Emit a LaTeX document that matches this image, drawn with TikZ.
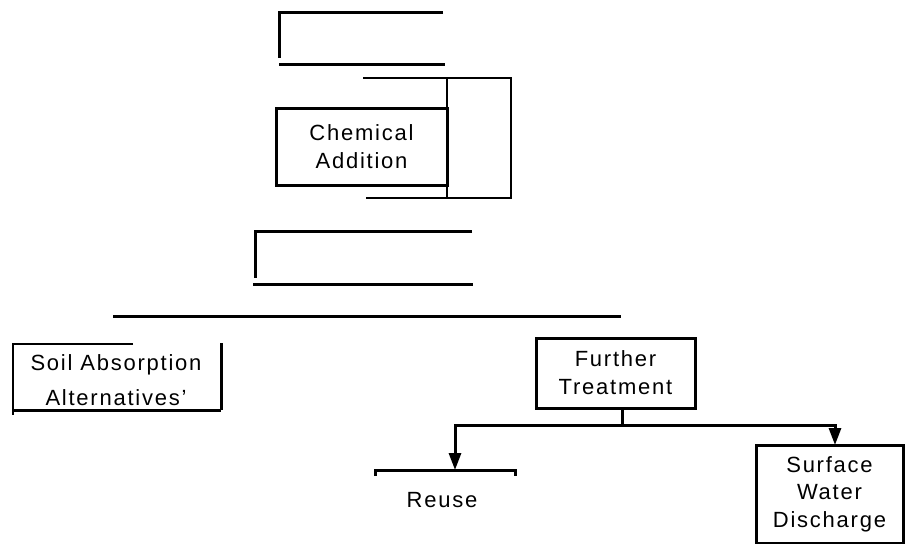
\documentclass[tikz,border=0pt]{standalone}
\usepackage{fontspec}
\setmainfont{Liberation Sans}[LetterSpace=8]
\usepackage{tikz}
\usetikzlibrary{arrows.meta}

\begin{document}
\begin{tikzpicture}[x=1pt,y=-1pt,line width=3pt,
    box/.style={draw,align=center,inner sep=0pt,font=\fontsize{22}{28}\selectfont},
    plain/.style={align=center,inner sep=0pt,font=\fontsize{22}{28}\selectfont},
    flow/.style={-{Triangle[length=17pt,width=12pt]}}]
            \useasboundingbox (0,0) rectangle (906,544);

            \draw (443,12) -- (279,12) -- (279,58);
            \draw (279,64) -- (445,64);

            \draw[line width=2pt] (363,78) -- (511,78) -- (511,198) -- (366,198);
            \draw[line width=2pt] (447,78) -- (447,198);
            \node[box,minimum width=171pt,minimum height=77pt] (chem) at (361.5,146.5) {Chemical\\Addition};

            \draw (472,231) -- (255,231) -- (255,278);
            \draw (253,284) -- (473,284);

            \draw (113,316) -- (621,316);

            \node[plain,font=\fontsize{22}{35}\selectfont] (soil) at (116,380) {Soil Absorption\\Alternatives'};
            \draw[line width=1.5pt] (133,344) -- (13,344) -- (13,415);
            \draw (13,410) -- (221,410);
            \draw (221,343) -- (221,410);

            \node[box,minimum width=159pt,minimum height=70pt] (further) at (615.5,373) {Further\\Treatment};
            \node[plain] (reuse) at (442,500) {Reuse};
            \node[box,minimum width=147pt,minimum height=98pt,font=\fontsize{22}{27.5}\selectfont] (surface) at (829.5,494) {Surface\\Water\\Discharge};

            \coordinate (split) at (622,425);
            \coordinate (reusebar) at (455,470);
            \coordinate (surfacein) at (835,445);
            \draw (375,476) -- (375,470) -- (515,470) -- (515,476);
            \draw (further.south -| split) -- (split);
            \draw[flow] (split) -| (reusebar);
            \draw[flow] (split) -| (surfacein);

\end{tikzpicture}
\end{document}
